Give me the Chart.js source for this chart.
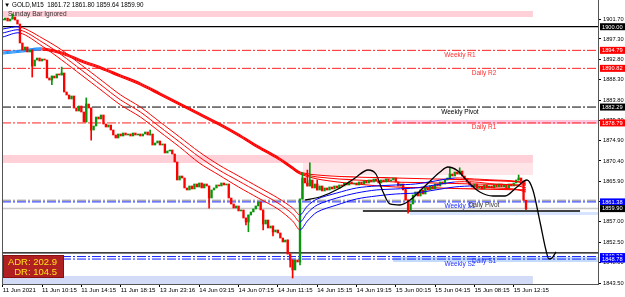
<!DOCTYPE html>
<html>
<head>
<meta charset="utf-8">
<script src="https://cdn.jsdelivr.net/npm/chart.js@4.4.1/dist/chart.umd.min.js"></script>
<style>
  html, body { margin: 0; padding: 0; background: #fff; }
  #wrap { width: 625px; height: 297px; }
</style>
</head>
<body>
<div id="wrap"><canvas id="chart"></canvas></div>
<script>
// GOLD M15, bar closes (bar 0 = first visible bar)
const firstOpen = 1901.60;
const closes = [
  1901.48, 1901.92, 1901.26, 1901.70, 1902.14, 1901.48, 1900.60, 1896.41, 1894.87, 1895.53,
  1894.43, 1894.87, 1891.34, 1892.66, 1893.10, 1892.44, 1892.88, 1892.66, 1888.70, 1888.25,
  1889.13, 1888.70, 1889.58, 1889.36, 1889.80, 1885.61, 1884.95, 1884.07, 1884.73, 1882.08,
  1881.42, 1882.52, 1881.20, 1879.00, 1882.96, 1882.08, 1877.23, 1878.11, 1880.10, 1879.66,
  1880.54, 1878.55, 1877.89, 1878.33, 1877.23, 1876.13, 1875.47, 1876.35, 1875.91, 1876.57,
  1876.13, 1876.35, 1875.91, 1876.57, 1876.13, 1876.35, 1875.91, 1876.35, 1876.79, 1876.13,
  1876.35, 1873.92, 1874.37, 1874.81, 1873.92, 1874.15, 1872.16, 1872.60, 1872.82, 1871.94,
  1870.18, 1866.21, 1867.09, 1866.65, 1864.45, 1864.01, 1864.89, 1864.23, 1865.33, 1864.67,
  1865.55, 1864.45, 1865.33, 1864.89, 1862.24, 1864.01, 1864.45, 1865.11, 1864.89, 1865.55,
  1865.11, 1865.33, 1862.24, 1860.92, 1860.04, 1860.48, 1859.38, 1859.60, 1857.83, 1856.95,
  1858.49, 1859.16, 1859.82, 1860.48, 1861.36, 1859.60, 1856.51, 1857.39, 1855.63, 1856.07,
  1854.75, 1855.19, 1854.53, 1853.42, 1852.54, 1852.98, 1849.90, 1848.57, 1846.37, 1848.57,
  1848.13, 1862.02, 1866.65, 1865.55, 1864.89, 1866.21, 1864.45, 1865.33, 1864.01, 1864.89,
  1863.79, 1864.45, 1864.01, 1864.67, 1864.23, 1864.89, 1864.45, 1865.11, 1864.89, 1865.55,
  1865.11, 1865.77, 1865.33, 1865.55, 1865.11, 1865.77, 1865.33, 1865.99, 1865.55, 1866.21,
  1865.77, 1866.43, 1865.99, 1865.55, 1866.21, 1865.77, 1866.43, 1865.99, 1866.21, 1866.65,
  1865.77, 1864.89, 1865.33, 1864.01, 1861.80, 1859.60, 1860.92, 1862.90, 1863.57, 1862.68,
  1864.01, 1863.12, 1864.45, 1864.01, 1864.89, 1864.23, 1865.33, 1864.89, 1865.77, 1865.33,
  1866.21, 1866.65, 1867.53, 1867.09, 1867.97, 1867.53, 1868.19, 1867.09, 1866.43, 1865.77,
  1865.11, 1864.67, 1865.33, 1864.45, 1864.89, 1864.23, 1865.11, 1864.45, 1864.89, 1864.45,
  1865.11, 1864.67, 1865.33, 1864.67, 1865.11, 1864.45, 1865.33, 1864.89, 1865.55, 1866.21,
  1866.65, 1865.99, 1861.72, 1859.90
];
// [bar, low, high] for the wicks that stick out
const wickList = [
  [4, null, 1902.80], [12, 1888.90, null], [20, 1887.20, null], [24, null, 1891.10],
  [34, null, 1884.30], [36, 1875.00, null], [60, null, 1877.20], [84, 1860.00, null],
  [99, 1856.30, null], [100, 1854.80, null], [106, 1855.20, null], [110, 1853.90, null],
  [116, null, 1853.00], [117, 1847.00, null], [118, 1844.60, null], [121, 1847.50, null],
  [122, null, 1867.80], [124, null, 1868.40], [125, null, 1870.00], [128, null, 1866.20],
  [164, null, 1864.40], [165, 1858.90, null], [182, null, 1868.90], [186, null, 1868.90],
  [210, null, 1867.30], [213, 1859.64, 1861.80]
];

const timeLabels = ['11 Jun 2021', '11 Jun 10:15', '11 Jun 14:15', '11 Jun 18:15', '13 Jun 23:16',
  '14 Jun 03:15', '14 Jun 07:15', '14 Jun 11:15', '14 Jun 15:15', '14 Jun 19:15',
  '15 Jun 00:15', '15 Jun 04:15', '15 Jun 08:15', '15 Jun 12:15'];
const barsPerLabel = 16;
const priceTicks = [1901.70, 1897.30, 1892.80, 1888.30, 1883.80, 1879.30, 1874.90,
  1870.40, 1865.90, 1861.40, 1857.00, 1852.50, 1848.00, 1843.50];

// fast MA ribbon
const fastBars = [0, 7, 16, 24, 32, 40, 48, 56, 64, 72, 80, 88, 96, 104, 112, 118, 121, 124, 128,
  136, 144, 152, 160, 168, 176, 184, 192, 200, 208, 213];
const fastUpper = [1899.50, 1899.94, 1897.51, 1894.87, 1891.56, 1888.25, 1884.95, 1882.30, 1879.00, 1875.69,
  1872.38, 1869.52, 1867.09, 1864.67, 1862.24, 1860.04, 1858.49, 1860.48, 1862.02, 1863.34,
  1864.45, 1864.89, 1865.11, 1865.33, 1865.99, 1866.65, 1866.43, 1866.21, 1865.99, 1865.33];
const fastMid = [1898.62, 1899.28, 1896.63, 1893.76, 1890.46, 1887.15, 1883.85, 1881.20, 1877.89, 1874.59,
  1871.28, 1868.41, 1865.99, 1863.57, 1861.14, 1858.71, 1856.95, 1858.94, 1860.70, 1862.24,
  1863.34, 1864.01, 1864.23, 1864.45, 1865.11, 1865.77, 1865.77, 1865.33, 1865.11, 1864.45];
const fastLower = [1897.73, 1898.62, 1895.75, 1892.66, 1889.36, 1886.05, 1882.74, 1880.10, 1876.79, 1873.48,
  1869.96, 1867.31, 1864.67, 1862.24, 1859.82, 1857.17, 1855.19, 1857.17, 1859.16, 1860.70,
  1862.02, 1862.68, 1863.12, 1863.34, 1864.01, 1864.67, 1864.89, 1864.45, 1864.23, 1863.57];

// slow MA ribbon
const slowBars = [0, 8, 16, 24, 32, 40, 48, 56, 64, 72, 80, 88, 96, 104, 112, 118, 121, 128, 144, 160, 176, 192, 213];
const slowUpper = [1894.43, 1894.87, 1895.31, 1894.43, 1892.66, 1891.12, 1889.36, 1887.59, 1885.39, 1883.18,
  1880.98, 1878.77, 1876.35, 1873.70, 1871.28, 1869.07, 1867.97, 1867.31, 1866.87, 1866.65, 1866.43, 1866.21, 1865.77];
const slowMid = [1894.21, 1894.65, 1895.09, 1894.21, 1892.44, 1890.90, 1889.13, 1887.37, 1885.17, 1882.96,
  1880.76, 1878.55, 1876.13, 1873.48, 1871.06, 1868.85, 1867.75, 1866.87, 1866.21, 1865.77, 1865.55, 1865.33, 1865.11];
const slowLower = [1893.99, 1894.43, 1894.87, 1893.99, 1892.22, 1890.68, 1888.91, 1887.15, 1884.95, 1882.74,
  1880.54, 1878.33, 1875.91, 1873.26, 1870.84, 1868.63, 1867.53, 1866.43, 1865.33, 1864.67, 1864.45, 1864.23, 1864.01];

// black projection curve
const curveBars = [123.1, 129.1, 137.3, 143.4, 148.7, 151.9, 154.8, 157.6, 161.7, 165.8, 171.9, 178.0, 181.2,
  185.3, 189.4, 194.2, 199.6, 204.5, 209.3, 213.4, 215.8, 218.7, 221.1, 222.3, 223.6, 225.2];
const curvePrices = [1861.80, 1862.46, 1864.45, 1866.65, 1868.41, 1867.53, 1863.57, 1860.92, 1860.70, 1861.80,
  1864.89, 1867.97, 1869.07, 1868.19, 1865.77, 1863.57, 1862.68, 1862.68, 1864.67, 1866.21,
  1864.01, 1856.95, 1850.78, 1848.80, 1849.02, 1850.34];

// pivot levels and drawn lines
const levelNames = ['', 'Weekly R1', 'Daily R2', 'Weekly Pivot', 'Daily R1', 'Daily Pivot', 'Weekly S1',
  '', '', 'Daily S1', 'Weekly S2', ''];
const levelPrices = [1900.00, 1894.79, 1890.82, 1882.29, 1878.79, 1861.75, 1861.38,
  1859.90, 1850.12, 1849.33, 1848.78, 1859.38];
const levelFrom = [null, null, null, null, null, null, null, null, null, null, null, 146.6];
const levelTo = [null, null, null, null, null, null, null, null, null, null, null, 235.0];

// shaded zones
const zoneFrom = [0, 0, 122.2, 158.9, 165.8, 158.9, 0];
const zoneTo = [215.8, 215.8, 215.8, 242.3, 242.3, 242.3, 215.8];
const zoneLow = [1902.14, 1869.96, 1867.31, 1878.55, 1858.49, 1848.13, 1842.50];
const zoneHigh = [1903.47, 1871.72, 1869.96, 1879.44, 1859.16, 1849.24, 1845.05];

// price tags on the axis
const tagPrices = [1900.00, 1894.79, 1890.82, 1882.29, 1878.79, 1861.38, 1859.90, 1849.33, 1848.78];

const quote = { symbol: 'GOLD,M15', open: 1861.72, high: 1861.80, low: 1859.64, close: 1859.90 };
const adr = 202.9, dr = 104.5;

// ---------- styles ----------
const UP = '#0a960a', DOWN = '#ff0000';
const FONT = 'Liberation Sans, DejaVu Sans, sans-serif';
const DASHDOT = [9, 2, 2, 2];
const levelStyle = [
  { color: '#000000', dash: [], width: 1.3 },
  { color: '#ff2020', dash: DASHDOT, width: 1 },
  { color: '#ff2020', dash: DASHDOT, width: 1 },
  { color: '#000000', dash: DASHDOT, width: 1 },
  { color: '#ff2020', dash: DASHDOT, width: 1 },
  { color: '#8a8a8a', dash: DASHDOT, width: 1 },
  { color: '#1020ff', dash: DASHDOT, width: 1 },
  { color: '#c8c8c8', dash: [], width: 1.5 },
  { color: '#000000', dash: [], width: 1.3 },
  { color: '#1020ff', dash: DASHDOT, width: 1 },
  { color: '#1020ff', dash: DASHDOT, width: 1 },
  { color: '#000000', dash: [], width: 1.5 }
];
const labelColor = ['', '#ff3030', '#ff3030', '#000000', '#ff3030', '#333333', '#2030ff', '', '', '#2030ff', '#2030ff', ''];
const zoneColors = ['#ffd0d8', '#ffd0d8', '#ffe4e8', '#ffc4dc', '#d6e4ff', '#c4dcfa', '#d2dcf6'];
const tagColors = ['#000000', '#ff0000', '#ff0000', '#000000', '#ff0000', '#0000ff', '#000000', '#0000ff', '#0000ff'];

const X_MIN = -0.3, X_MAX = 242.3;

const opens = closes.map((c, i) => i ? closes[i - 1] : firstOpen);
const bodyData = closes.map((c, i) => ({ x: i, y: [opens[i], c] }));
const bodyColors = closes.map((c, i) => c >= opens[i] ? UP : DOWN);
const wickData = wickList.map(([i, lo, hi]) => ({
  x: i, y: [lo ?? Math.min(opens[i], closes[i]), hi ?? Math.max(opens[i], closes[i])]
}));
const wickColors = wickList.map(([i]) => bodyColors[i]);

function ribbon(bars, values, upColor, width) {
  return {
    type: 'line',
    data: bars.map((b, k) => ({ x: b, y: values[k] })),
    borderWidth: width,
    pointRadius: 0,
    tension: 0.3,
    borderColor: DOWN,
    segment: {
      borderColor: ctx => ctx.p1.parsed.y > ctx.p0.parsed.y ? upColor : DOWN
    }
  };
}

const levelSets = levelPrices.map((p, k) => ({
  type: 'line',
  data: [{ x: levelFrom[k] ?? X_MIN, y: p }, { x: levelTo[k] ?? X_MAX, y: p }],
  borderColor: levelStyle[k].color,
  borderDash: levelStyle[k].dash,
  borderWidth: levelStyle[k].width,
  pointRadius: 0
}));

const datasets = [
  {
    type: 'line',
    data: curveBars.map((b, k) => ({ x: b, y: curvePrices[k] })),
    borderColor: '#000000',
    borderWidth: 1.3,
    pointRadius: 0,
    cubicInterpolationMode: 'monotone'
  },
  ribbon(fastBars, fastUpper, '#0000ff', 1),
  ribbon(fastBars, fastMid, '#0000ff', 1),
  ribbon(fastBars, fastLower, '#0000ff', 1),
  {
    type: 'bar', data: bodyData, backgroundColor: bodyColors,
    barThickness: 1.7, grouped: false, minBarLength: 1
  },
  {
    type: 'bar', data: wickData, backgroundColor: wickColors,
    barThickness: 1, grouped: false
  },
  ribbon(slowBars, slowUpper, '#1e90ff', 1.2),
  ribbon(slowBars, slowMid, '#1e90ff', 1.2),
  ribbon(slowBars, slowLower, '#1e90ff', 1.2),
  ...levelSets
];

const overlay = {
  id: 'overlay',
  beforeDatasetsDraw(chart) {
    const { ctx, chartArea: a, scales: { x, y } } = chart;
    ctx.save();
    ctx.beginPath();
    ctx.rect(a.left, a.top, a.right - a.left, a.bottom - a.top);
    ctx.clip();
    zoneLow.forEach((lo, k) => {
      const x0 = x.getPixelForValue(zoneFrom[k]);
      const x1 = x.getPixelForValue(zoneTo[k]);
      const y0 = y.getPixelForValue(zoneHigh[k]);
      const y1 = y.getPixelForValue(lo);
      ctx.fillStyle = zoneColors[k];
      ctx.fillRect(x0, y0, x1 - x0, y1 - y0);
    });
    ctx.restore();
  },
  afterDraw(chart) {
    const { ctx, chartArea: a, scales: { x, y } } = chart;
    ctx.save();

    // left frame line
    ctx.strokeStyle = '#555';
    ctx.lineWidth = 1;
    ctx.beginPath();
    ctx.moveTo(a.left + 0.5, a.top);
    ctx.lineTo(a.left + 0.5, a.bottom);
    ctx.stroke();

    // level names, just under their lines
    ctx.font = '6.5px ' + FONT;
    ctx.textAlign = 'center';
    ctx.textBaseline = 'top';
    const weeklyAt = 186.1, dailyAt = 195.9;
    levelNames.forEach((name, k) => {
      if (!name) return;
      const at = name.startsWith('Weekly') ? weeklyAt : dailyAt;
      ctx.fillStyle = labelColor[k];
      ctx.fillText(name, x.getPixelForValue(at), y.getPixelForValue(levelPrices[k]) + 1.5);
    });

    // title and note
    ctx.textAlign = 'left';
    ctx.textBaseline = 'middle';
    ctx.fillStyle = '#000';
    ctx.font = '6.3px ' + FONT;
    ctx.fillText('\u25BC ' + quote.symbol + '  ' + [quote.open, quote.high, quote.low, quote.close]
      .map(v => v.toFixed(2)).join(' '), a.left + 2, a.top + 5);
    ctx.fillStyle = '#333';
    ctx.font = '6.6px ' + FONT;
    ctx.fillText('Sunday Bar Ignored', a.left + 6, y.getPixelForValue((zoneLow[0] + zoneHigh[0]) / 2));

    // price tags on the right axis
    ctx.font = '5.7px ' + FONT;
    tagPrices.forEach((p, k) => {
      const py = y.getPixelForValue(p);
      ctx.fillStyle = tagColors[k];
      ctx.fillRect(a.right + 2, py - 3.5, 26, 7);
      ctx.fillStyle = '#fff';
      ctx.fillText(p.toFixed(2), a.right + 4, py + 0.3);
    });

    // ADR box
    const bx = a.left + 1, by = a.bottom - 29;
    ctx.fillStyle = '#b02020';
    ctx.fillRect(bx, by, 61, 23);
    ctx.strokeStyle = '#8a1010';
    ctx.strokeRect(bx + 0.5, by + 0.5, 60, 22);
    ctx.fillStyle = '#ffe21a';
    ctx.font = '9.5px ' + FONT;
    ctx.textAlign = 'right';
    ctx.fillText('ADR: ' + adr.toFixed(1), bx + 54, by + 7.5);
    ctx.fillText('DR: ' + dr.toFixed(1), bx + 54, by + 17.5);
    ctx.restore();
  }
};

new Chart(document.getElementById('chart'), {
  type: 'bar',
  data: { datasets },
  options: {
    responsive: true,
    maintainAspectRatio: false,
    animation: false,
    events: [],
    layout: { padding: { left: 2, top: 0, right: 0, bottom: 0 } },
    plugins: { legend: { display: false }, tooltip: { enabled: false } },
    scales: {
      x: {
        type: 'linear',
        min: X_MIN,
        max: X_MAX,
        offset: false,
        grid: { display: true, drawOnChartArea: false, drawTicks: true, tickLength: 3, color: '#000', offset: false },
        border: { display: true, color: '#555' },
        afterBuildTicks: scale => {
          scale.ticks = timeLabels.map((_, k) => ({ value: k * barsPerLabel }));
        },
        afterFit: scale => {
          scale.height = 13;
          scale.paddingLeft = 0; scale.paddingRight = 0;
        },
        ticks: {
          autoSkip: false,
          maxRotation: 0,
          align: 'start',
          padding: 0,
          color: '#000',
          font: { family: FONT, size: 6.1 },
          callback: (v, i) => timeLabels[i]
        }
      },
      y: {
        type: 'linear',
        position: 'right',
        beginAtZero: false,
        min: 1843.28,
        max: 1905.89,
        grid: { display: true, drawOnChartArea: false, drawTicks: true, tickLength: 3, color: '#000' },
        border: { display: true, color: '#555' },
        afterBuildTicks: scale => {
          scale.ticks = priceTicks.map(v => ({ value: v }));
        },
        afterFit: scale => {
          scale.width = 27;
          scale.paddingTop = 0; scale.paddingBottom = 0;
        },
        ticks: {
          padding: 2,
          color: '#000',
          font: { family: FONT, size: 5.7 },
          callback: v => v.toFixed(2)
        }
      }
    }
  },
  plugins: [overlay]
});
</script>
</body>
</html>
